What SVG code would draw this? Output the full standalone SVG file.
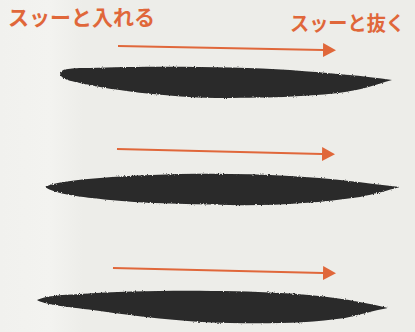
<svg xmlns="http://www.w3.org/2000/svg" width="415" height="332" viewBox="0 0 415 332">
  <defs>
    <style>
      .label { font-family: "Noto Sans CJK JP", "Noto Sans", sans-serif; font-weight: 700; fill: #E0673A; }
      .ink { fill: #2A2A2A; filter: url(#rough); }
      .flow { stroke: #E0673A; stroke-width: 2; fill: none; marker-end: url(#head); }
    </style>
    <marker id="head" viewBox="0 0 13 14" refX="0" refY="7" markerWidth="13" markerHeight="14" markerUnits="userSpaceOnUse" orient="auto">
      <path d="M0,0 L13,7 L0,14 Z" fill="#E0673A"/>
    </marker>
    <!-- ragged brush edges -->
    <filter id="rough" x="-5%" y="-30%" width="110%" height="160%">
      <feTurbulence type="fractalNoise" baseFrequency="0.9" numOctaves="2" seed="3" result="n"/>
      <feDisplacementMap in="SourceGraphic" in2="n" scale="2.5" xChannelSelector="R" yChannelSelector="G"/>
    </filter>
    <linearGradient id="paper" x1="0" y1="0" x2="1" y2="0">
      <stop offset="0" stop-color="#F1F1EE"/>
      <stop offset="0.12" stop-color="#F3F3F0"/>
      <stop offset="0.2" stop-color="#EDEDE9"/>
      <stop offset="1" stop-color="#EDEDE9"/>
    </linearGradient>
  </defs>

  <rect width="415" height="332" fill="url(#paper)"/>

  <g id="label-in">
    <text class="label" x="8" y="25" font-size="21" textLength="147" lengthAdjust="spacingAndGlyphs">スッーと入れる</text>
  </g>
  <g id="label-out">
    <text class="label" x="290" y="31" font-size="20" textLength="115" lengthAdjust="spacingAndGlyphs">スッーと抜く</text>
  </g>

  <g id="stroke-1">
    <path class="ink" d="M60,73 C62,68 75,68 90,68 C140,66 230,66 290,70 C330,73 365,76 392,80 C375,85 360,90 345,92 C310,97 260,98 215,98 C170,97 120,91 95,86 C75,82 60,80 60,73 Z"/>
  </g>
  <g id="stroke-2">
    <path class="ink" d="M45,187 C55,182 75,180 100,178 C150,174 220,172 290,176 C330,178 365,183 400,187 C385,191 375,194 360,197 C320,203 270,206 230,205 C180,204 140,203 110,200 C80,197 55,194 45,187 Z"/>
  </g>
  <g id="stroke-3">
    <path class="ink" d="M37,300 C45,296 60,295 80,294 C140,290 220,290 280,293 C320,295 350,299 388,308 C375,310 360,315 345,318 C310,323 270,324 230,323 C180,322 135,316 100,311 C70,307 45,305 37,300 Z"/>
  </g>

  <g id="connectors">
    <line class="flow" x1="118" y1="46" x2="323" y2="50"/>
    <line class="flow" x1="117" y1="149" x2="322" y2="154"/>
    <line class="flow" x1="113" y1="268" x2="323" y2="273"/>
  </g>
</svg>
